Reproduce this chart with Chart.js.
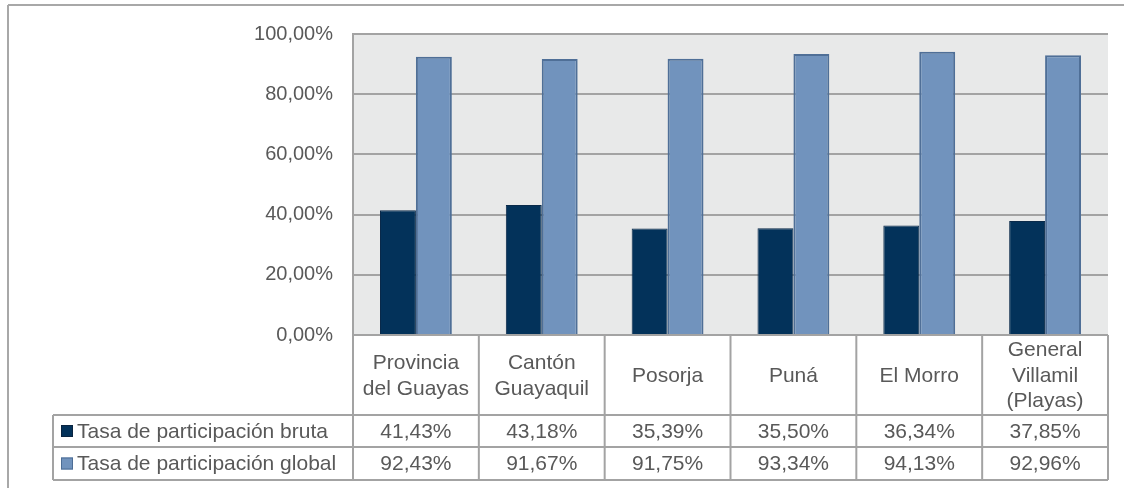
<!DOCTYPE html>
<html>
<head>
<meta charset="utf-8">
<script src="https://cdn.jsdelivr.net/npm/chart.js@4.4.1/dist/chart.umd.min.js"></script>
<style>
  html, body { margin: 0; padding: 0; background: #fff; }
  #wrap { width: 1124px; height: 488px; }
</style>
</head>
<body>
<div id="wrap"><canvas id="chart" width="1124" height="488"></canvas></div>
<script>
const categories = [
  ["Provincia", "del Guayas"],
  ["Cantón", "Guayaquil"],
  ["Posorja"],
  ["Puná"],
  ["El Morro"],
  ["General", "Villamil", "(Playas)"]
];
const seriesNames = ["Tasa de participación bruta", "Tasa de participación global"];
const bruta = [41.43, 43.18, 35.39, 35.50, 36.34, 37.85];
const global = [92.43, 91.67, 91.75, 93.34, 94.13, 92.96];
const yTicks = [0, 20, 40, 60, 80, 100];

const darkBlue = "#03325a";
const lightBlue = "#7193bd";
const textColor = "#595959";
const lineColor = "#a3a3a3";
const fontFamily = "'Liberation Sans', Arial, sans-serif";
const axisFontSize = 20;
const tableFontSize = 21;

function pct(v) {
  return v.toFixed(2).replace(".", ",") + "%";
}

// fondo gris del área de trazado
const plotBg = {
  id: "plotBg",
  beforeDraw(chart) {
    const a = chart.chartArea;
    const ctx = chart.ctx;
    ctx.save();
    ctx.fillStyle = "#e8e9e9";
    ctx.fillRect(a.left, a.top, a.right - a.left, a.bottom - a.top);
    ctx.restore();
  }
};

// tabla de datos debajo del gráfico + marco exterior
const dataTable = {
  id: "dataTable",
  afterDraw(chart) {
    const ctx = chart.ctx;
    const a = chart.chartArea;
    const xs = chart.scales.x;
    const n = categories.length;
    const half = (xs.getPixelForValue(1) - xs.getPixelForValue(0)) / 2;
    const headTop = a.bottom, headBot = 415, row1Bot = 447, row2Bot = 480;
    const tableLeft = 53;

    ctx.save();
    ctx.lineWidth = 2;

    function line(x1, y1, x2, y2) {
      ctx.beginPath();
      ctx.moveTo(x1, y1);
      ctx.lineTo(x2, y2);
      ctx.stroke();
    }

    // marco exterior
    ctx.strokeStyle = "#a8a8a8";
    line(8, 5, 1124, 5);
    line(8, 5, 8, 488);
    ctx.strokeStyle = lineColor;

    // líneas horizontales
    line(a.left, headTop, a.right, headTop);
    line(tableLeft, headBot, a.right, headBot);
    line(tableLeft, row1Bot, a.right, row1Bot);
    line(tableLeft, row2Bot, a.right, row2Bot);
    // líneas verticales
    line(tableLeft, headBot, tableLeft, row2Bot);
    line(a.left, headTop, a.left, row2Bot);
    for (let i = 0; i < n; i++) {
      const xr = xs.getPixelForValue(i) + half;
      line(xr, headTop, xr, row2Bot);
    }

    ctx.fillStyle = textColor;
    ctx.font = tableFontSize + "px " + fontFamily;
    ctx.textAlign = "center";
    ctx.textBaseline = "middle";
    const lh = 25.5;
    const headMid = (headTop + headBot) / 2;
    const r1Mid = (headBot + row1Bot) / 2;
    const r2Mid = (row1Bot + row2Bot) / 2;
    for (let i = 0; i < n; i++) {
      const cx = xs.getPixelForValue(i);
      const lines = categories[i];
      lines.forEach((t, k) => {
        ctx.fillText(t, cx, headMid + (k - (lines.length - 1) / 2) * lh + 1);
      });
      ctx.fillText(pct(bruta[i]), cx, r1Mid + 1);
      ctx.fillText(pct(global[i]), cx, r2Mid + 1);
    }

    // leyenda en la tabla
    const keys = [
      { y: r1Mid, fill: darkBlue, stroke: "#0a2440", name: seriesNames[0] },
      { y: r2Mid, fill: lightBlue, stroke: "#4d6d95", name: seriesNames[1] }
    ];
    ctx.textAlign = "left";
    keys.forEach(k => {
      ctx.fillStyle = k.fill;
      ctx.fillRect(61, k.y - 6, 12, 12);
      ctx.lineWidth = 1;
      ctx.strokeStyle = k.stroke;
      ctx.strokeRect(61.5, k.y - 5.5, 11, 11);
      ctx.fillStyle = textColor;
      ctx.fillText(k.name, 77, k.y + 1);
    });
    ctx.restore();
  }
};

new Chart(document.getElementById("chart"), {
  type: "bar",
  data: {
    labels: categories.map(c => c.join(" ")),
    datasets: [
      {
        label: seriesNames[0],
        data: bruta,
        backgroundColor: darkBlue,
        borderColor: "#0a2a4a",
        borderWidth: 1,
        categoryPercentage: 0.571,
        barPercentage: 1
      },
      {
        label: seriesNames[1],
        data: global,
        backgroundColor: lightBlue,
        borderColor: "#4f6f97",
        borderWidth: 2,
        categoryPercentage: 0.571,
        barPercentage: 1
      }
    ]
  },
  options: {
    responsive: false,
    animation: false,
    devicePixelRatio: 1,
    layout: { padding: { top: 34, right: 16, bottom: 153, left: 0 } },
    plugins: {
      legend: { display: false },
      tooltip: { enabled: false }
    },
    scales: {
      x: { display: false },
      y: {
        min: 0,
        max: 100,
        afterFit: s => { s.width = 353; },
        afterBuildTicks: s => { s.ticks = yTicks.map(v => ({ value: v })); },
        grid: { color: lineColor, lineWidth: 2, drawTicks: false },
        border: { display: true, color: lineColor, width: 2 },
        ticks: {
          padding: 20,
          color: textColor,
          font: { family: fontFamily, size: axisFontSize },
          callback: v => pct(v)
        }
      }
    }
  },
  plugins: [plotBg, dataTable]
});
</script>
</body>
</html>
